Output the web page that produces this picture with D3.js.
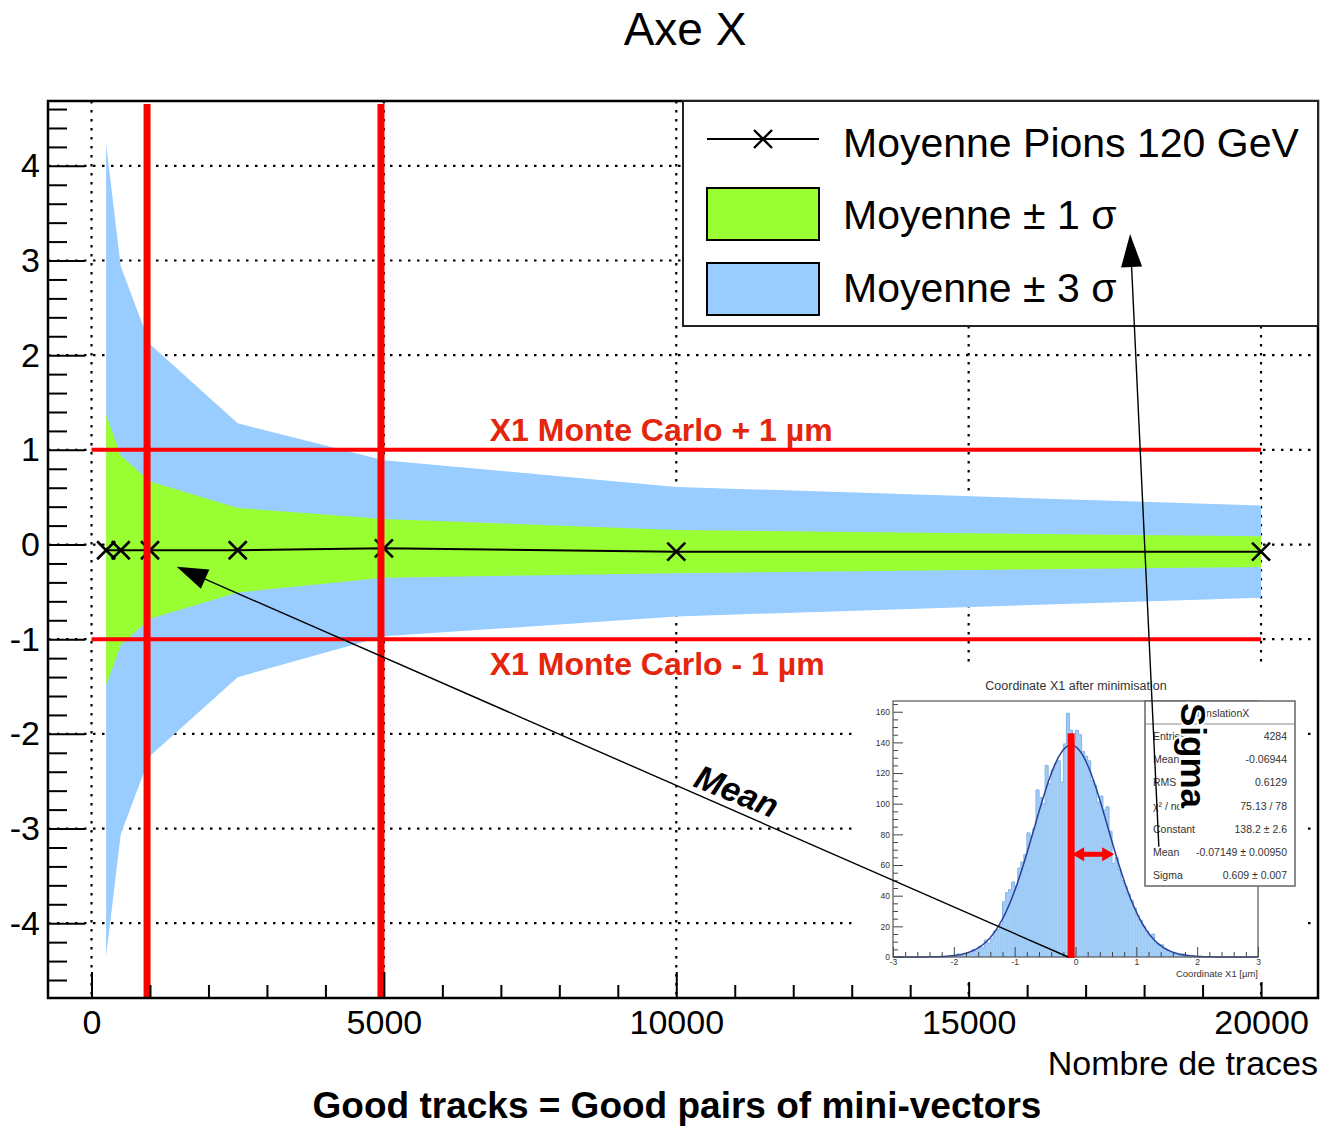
<!DOCTYPE html>
<html>
<head>
<meta charset="utf-8">
<script src="https://cdn.jsdelivr.net/npm/d3@7"></script>
<style>
  body { margin: 0; background: #fff; }
  svg { display: block; }
  text { font-family: "Liberation Sans", Arial, Helvetica, sans-serif; }
</style>
</head>
<body>
<svg id="chart" width="1321" height="1126"></svg>
<script>
// ---- main graph: mean of X1 and its spread versus number of tracks ----
const nTracks = [250, 500, 1000, 2500, 5000, 10000, 20000];
const meanX1  = [-0.06, -0.06, -0.06, -0.06, -0.04, -0.075, -0.075];
const sigmaX1 = [1.43, 1.0, 0.725, 0.447, 0.31, 0.228, 0.162];

const xMajorTicks = [0, 5000, 10000, 15000, 20000];
const yMajorTicks = [-4, -3, -2, -1, 0, 1, 2, 3, 4];

// Monte Carlo reference band (µm) and highlighted track counts
const mcOffsets = [1, -1];
const mcLabels = ["X1 Monte Carlo + 1 µm", "X1 Monte Carlo - 1 µm"];
const markedTracks = [950, 4950];

const legendLabels = ["Moyenne Pions 120 GeV", "Moyenne \u00B1 1 \u03C3", "Moyenne \u00B1 3 \u03C3"];

// ---- inset: distribution of X1 after minimisation ----
const histLow = -3, histWidth = 0.05;
const histCounts = [
  0,0,0,0,0,0,0,0,0,0, 0,0,0,0,0,0,0,0,0,1,
  1,2,1,2,3,2,5,4,7,6, 11,9,12,17,18,21,36,42,44,49,
  46,58,62,67,81,79,84,109,104,100, 125,113,122,126,128,114,139,159,148,141,
  148,145,134,131,128,115,112,101,105,96, 98,82,61,65,57,50,46,41,37,32,
  27,24,20,17,14,15,9,8,8,5, 4,3,3,2,1,2,1,0,1,0,
  0,0,0,0,0,0,0,0,0,0, 0,0,0,0,0,0,0,0,0,0
];
const fitConstant = 138.2, fitMean = -0.07149, fitSigma = 0.609;
const statNames  = ["Entries", "Mean", "RMS", "\u03C7\u00B2 / ndf", "Constant", "Mean", "Sigma"];
const statValues = ["4284", "-0.06944", "0.6129", "75.13 / 78", "138.2 \u00B1 2.6", "-0.07149 \u00B1 0.00950", "0.609 \u00B1 0.007"];
const insetXTicks = [-3, -2, -1, 0, 1, 2, 3];
const insetYTicks = [0, 20, 40, 60, 80, 100, 120, 140, 160];

const svg = d3.select("#chart");
const frame = { left: 48, right: 1318, top: 101, bottom: 998 };

const x = d3.scaleLinear().domain([-744, 20974]).range([frame.left, frame.right]);
const y = d3.scaleLinear().domain([-4.79, 4.685]).range([frame.bottom, frame.top]);

// dotted grid
const grid = svg.append("g")
  .attr("stroke", "#000").attr("stroke-width", 2.2).attr("stroke-dasharray", "2.5,6.5");
xMajorTicks.forEach(v => grid.append("line")
  .attr("x1", x(v)).attr("x2", x(v)).attr("y1", frame.top).attr("y2", frame.bottom));
yMajorTicks.forEach(v => grid.append("line")
  .attr("x1", frame.left).attr("x2", frame.right).attr("y1", y(v)).attr("y2", y(v)));

// ±3σ and ±1σ bands
const idx = d3.range(nTracks.length);
const band = k => d3.area()
  .x(i => x(nTracks[i]))
  .y0(i => y(meanX1[i] - k * sigmaX1[i]))
  .y1(i => y(meanX1[i] + k * sigmaX1[i]));
svg.append("path").attr("d", band(3)(idx)).attr("fill", "#99ccff");
svg.append("path").attr("d", band(1)(idx)).attr("fill", "#99ff33");

// mean line with cross markers
const crossPath = s => `M${-s},${-s}L${s},${s}M${-s},${s}L${s},${-s}`;
svg.append("path")
  .attr("d", d3.line().x(i => x(nTracks[i])).y(i => y(meanX1[i]))(idx))
  .attr("fill", "none").attr("stroke", "#000").attr("stroke-width", 2);
svg.append("g").selectAll("path").data(idx).join("path")
  .attr("transform", i => `translate(${x(nTracks[i])},${y(meanX1[i])})`)
  .attr("d", crossPath(9))
  .attr("stroke", "#000").attr("stroke-width", 2.6).attr("fill", "none");

// Monte Carlo ±1 µm lines
mcOffsets.forEach((v, k) => {
  svg.append("line")
    .attr("x1", x(0)).attr("x2", x(20000)).attr("y1", y(v)).attr("y2", y(v))
    .attr("stroke", "#ff0000").attr("stroke-width", 4);
  svg.append("text")
    .attr("x", x(6810)).attr("y", v > 0 ? y(v) - 9 : y(v) + 36)
    .attr("font-size", 32).attr("font-weight", "bold").attr("fill", "#e3260d")
    .text(mcLabels[k]);
});

// highlighted track counts
markedTracks.forEach(v => svg.append("line")
  .attr("x1", x(v)).attr("x2", x(v)).attr("y1", frame.top + 3).attr("y2", frame.bottom)
  .attr("stroke", "#ff0000").attr("stroke-width", 7));

// axes
function styleAxis(g, fontSize) {
  g.select(".domain").remove();
  g.selectAll(".tick line").attr("stroke", "#000").attr("stroke-width", 2);
  g.selectAll(".tick text").attr("font-size", fontSize).attr("fill", "#000")
    .attr("font-family", "'Liberation Sans', Arial, sans-serif");
}
const yMinor = d3.range(-23, 24).filter(k => k % 5 !== 0).map(k => k / 5);
svg.append("g").attr("transform", `translate(${frame.left},0)`)
  .call(d3.axisLeft(y).tickValues(yMinor).tickSize(-19).tickFormat(""))
  .call(g => styleAxis(g, 0));
svg.append("g").attr("transform", `translate(${frame.left},0)`)
  .call(d3.axisLeft(y).tickValues(yMajorTicks).tickSize(-37).tickPadding(8).tickFormat(d => String(d)))
  .call(g => styleAxis(g, 34));

const xMinor = d3.range(1000, 20001, 1000).filter(v => v % 5000 !== 0);
svg.append("g").attr("transform", `translate(0,${frame.bottom})`)
  .call(d3.axisBottom(x).tickValues(xMinor).tickSize(-13).tickFormat(""))
  .call(g => styleAxis(g, 0));
svg.append("g").attr("transform", `translate(0,${frame.bottom})`)
  .call(d3.axisBottom(x).tickValues(xMajorTicks).tickSize(-26).tickPadding(12).tickFormat(d => String(d)))
  .call(g => styleAxis(g, 34));

// frame
svg.append("rect")
  .attr("x", frame.left).attr("y", frame.top)
  .attr("width", frame.right - frame.left).attr("height", frame.bottom - frame.top)
  .attr("fill", "none").attr("stroke", "#000").attr("stroke-width", 2.5);

// titles
svg.append("text").attr("x", 685).attr("y", 45).attr("text-anchor", "middle")
  .attr("font-size", 46).text("Axe X");
svg.append("text").attr("x", frame.right).attr("y", 1075).attr("text-anchor", "end")
  .attr("font-size", 34).text("Nombre de traces");
svg.append("text").attr("x", 677).attr("y", 1118).attr("text-anchor", "middle")
  .attr("font-size", 37).attr("font-weight", "bold").text("Good tracks = Good pairs of mini-vectors");

// legend
const leg = svg.append("g");
leg.append("rect").attr("x", 683).attr("y", frame.top).attr("width", frame.right - 683).attr("height", 225)
  .attr("fill", "#fff").attr("stroke", "#222").attr("stroke-width", 2);
leg.append("line").attr("x1", 707).attr("x2", 819).attr("y1", 139).attr("y2", 139)
  .attr("stroke", "#000").attr("stroke-width", 2);
leg.append("path").attr("transform", "translate(763,139)").attr("d", crossPath(9))
  .attr("stroke", "#000").attr("stroke-width", 2.4);
leg.append("rect").attr("x", 707).attr("y", 188).attr("width", 112).attr("height", 52)
  .attr("fill", "#99ff33").attr("stroke", "#000").attr("stroke-width", 2);
leg.append("rect").attr("x", 707).attr("y", 263).attr("width", 112).attr("height", 52)
  .attr("fill", "#99ccff").attr("stroke", "#000").attr("stroke-width", 2);
[157, 229, 302].forEach((yy, k) => leg.append("text")
  .attr("x", 843).attr("y", yy).attr("font-size", 41).text(legendLabels[k]));

// ---- inset histogram ----
const inset = svg.append("g");
inset.append("rect").attr("x", 858).attr("y", 668).attr("width", 447).attr("height", 314).attr("fill", "#fff");

const ix = d3.scaleLinear().domain([-3, 3]).range([893, 1258]);
const iy = d3.scaleLinear().domain([0, 167]).range([957, 701]);

const plot = inset.append("g");
plot.append("text").attr("x", 1076).attr("y", 690).attr("text-anchor", "middle")
  .attr("font-size", 12.5).attr("fill", "#333").text("Coordinate X1 after minimisation");

plot.append("g").selectAll("rect").data(histCounts).join("rect")
  .attr("x", (c, i) => ix(histLow + i * histWidth))
  .attr("width", (c, i) => ix(histLow + (i + 1) * histWidth) - ix(histLow + i * histWidth) + 0.3)
  .attr("y", c => iy(c))
  .attr("height", c => iy(0) - iy(c))
  .attr("fill", "#9fcbf7");

const steps = [];
histCounts.forEach((c, i) => {
  steps.push([ix(histLow + i * histWidth), iy(c)]);
  steps.push([ix(histLow + (i + 1) * histWidth), iy(c)]);
});
plot.append("path").attr("d", d3.line()(steps))
  .attr("fill", "none").attr("stroke", "#86b5e6").attr("stroke-width", 1);

const fitXs = d3.range(0, 301).map(k => -3 + k * 0.02);
plot.append("path")
  .attr("d", d3.line()
    .x(v => ix(v))
    .y(v => iy(fitConstant * Math.exp(-0.5 * Math.pow((v - fitMean) / fitSigma, 2))))(fitXs))
  .attr("fill", "none").attr("stroke", "#2c3f96").attr("stroke-width", 1.5);

function styleInsetAxis(g) {
  g.select(".domain").remove();
  g.selectAll(".tick line").attr("stroke", "#444").attr("stroke-width", 1);
  g.selectAll(".tick text").attr("font-size", 8.5).attr("fill", "#333")
    .attr("font-family", "'Liberation Sans', Arial, sans-serif");
}
plot.append("g").attr("transform", `translate(${ix(-3)},0)`)
  .call(d3.axisLeft(iy).tickValues(d3.range(5, 166, 5).filter(v => v % 20 !== 0)).tickSize(-5).tickFormat(""))
  .call(styleInsetAxis);
plot.append("g").attr("transform", `translate(${ix(-3)},0)`)
  .call(d3.axisLeft(iy).tickValues(insetYTicks).tickSize(-10).tickPadding(3).tickFormat(d => String(d)))
  .call(styleInsetAxis);
plot.append("g").attr("transform", `translate(0,${iy(0)})`)
  .call(d3.axisBottom(ix).tickValues(d3.range(-15, 16).filter(k => k % 5 !== 0).map(k => k / 5)).tickSize(-5).tickFormat(""))
  .call(styleInsetAxis);
plot.append("g").attr("transform", `translate(0,${iy(0)})`)
  .call(d3.axisBottom(ix).tickValues(insetXTicks).tickSize(-10).tickPadding(2).tickFormat(d => String(d)))
  .call(styleInsetAxis);

plot.append("rect").attr("x", ix(-3)).attr("y", iy(167))
  .attr("width", ix(3) - ix(-3)).attr("height", iy(0) - iy(167))
  .attr("fill", "none").attr("stroke", "#555").attr("stroke-width", 1.2);
plot.append("text").attr("x", ix(3)).attr("y", 977).attr("text-anchor", "end")
  .attr("font-size", 9.5).attr("fill", "#333").text("Coordinate X1 [\u00B5m]");

// statistics box
const stats = plot.append("g");
stats.append("rect").attr("x", 1145).attr("y", 701).attr("width", 150).attr("height", 185)
  .attr("fill", "#fff").attr("stroke", "#666").attr("stroke-width", 1.5);
stats.append("line").attr("x1", 1145).attr("x2", 1295).attr("y1", 724).attr("y2", 724)
  .attr("stroke", "#888").attr("stroke-width", 1);
stats.append("text").attr("x", 1220).attr("y", 717).attr("text-anchor", "middle")
  .attr("font-size", 10.5).attr("fill", "#333").text("TranslationX");
statNames.forEach((name, k) => {
  const yy = 740 + k * 23.2;
  stats.append("text").attr("x", 1153).attr("y", yy).attr("font-size", 10.5).attr("fill", "#333").text(name);
  stats.append("text").attr("x", 1287).attr("y", yy).attr("text-anchor", "end")
    .attr("font-size", 10.5).attr("fill", "#333").text(statValues[k]);
});

// mean marker and sigma width in the inset
inset.append("line")
  .attr("x1", ix(fitMean)).attr("x2", ix(fitMean)).attr("y1", iy(0) + 1).attr("y2", iy(146))
  .attr("stroke", "#ff0000").attr("stroke-width", 7);
const arrowY = iy(67);
const xa = ix(fitMean) + 1, xb = ix(fitMean + fitSigma) + 6;
inset.append("line").attr("x1", xa + 10).attr("x2", xb - 10).attr("y1", arrowY).attr("y2", arrowY)
  .attr("stroke", "#ff0000").attr("stroke-width", 5);
inset.append("path")
  .attr("d", `M${xa},${arrowY}L${xa + 12},${arrowY - 7}L${xa + 12},${arrowY + 7}Z` +
             `M${xb},${arrowY}L${xb - 12},${arrowY - 7}L${xb - 12},${arrowY + 7}Z`)
  .attr("fill", "#ff0000");

// annotations
function arrow(x1, y1, x2, y2, len, halfW) {
  const dx = x2 - x1, dy = y2 - y1, L = Math.hypot(dx, dy);
  const ux = dx / L, uy = dy / L;
  const bx = x2 - ux * len, by = y2 - uy * len;
  svg.append("line").attr("x1", x1).attr("y1", y1).attr("x2", bx).attr("y2", by)
    .attr("stroke", "#000").attr("stroke-width", 1.4);
  svg.append("path")
    .attr("d", `M${x2},${y2}L${bx - uy * halfW},${by + ux * halfW}L${bx + uy * halfW},${by - ux * halfW}Z`)
    .attr("fill", "#000");
}
arrow(ix(fitMean) - 3, iy(0), x(1457), y(-0.234), 31, 10.5);
arrow(ix(1.37), iy(72), x(17760), y(3.28), 33, 10.5);

svg.append("text")
  .attr("transform", "translate(692,786) rotate(22)")
  .attr("font-size", 34).attr("font-weight", "bold").attr("font-style", "italic")
  .text("Mean");
svg.append("text")
  .attr("transform", "translate(1181,703) rotate(90)")
  .attr("font-size", 35).attr("font-weight", "bold")
  .attr("stroke", "#fff").attr("stroke-width", 4).attr("paint-order", "stroke")
  .text("Sigma");
</script>
</body>
</html>
